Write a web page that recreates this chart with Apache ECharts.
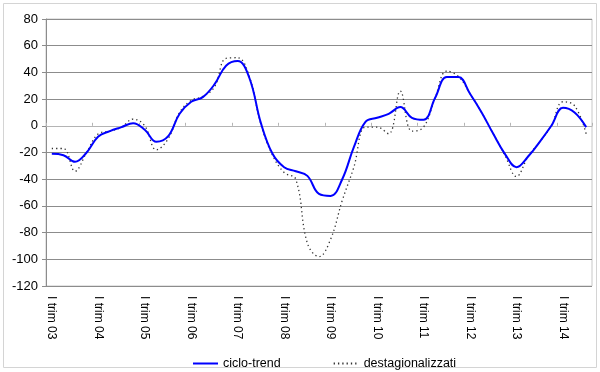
<!DOCTYPE html>
<html>
<head>
<meta charset="utf-8">
<script src="https://cdn.jsdelivr.net/npm/echarts@6/dist/echarts.min.js"></script>
<style>
html,body{margin:0;padding:0;background:#fff;}
#c{width:600px;height:372px;}
</style>
</head>
<body>
<div id="c"></div>
<script>
const categories = [];
const years = ['03','04','05','06','07','08','09','10','11','12','13','14'];
const quarters = ['I','II','III','IV'];
for (const y of years) for (const q of quarters) categories.push(q + ' trim ' + y);
categories.length = 47;

const cicloTrend = [-21,-22,-27,-20,-8,-4,-1,2,-3,-12,-8,9,18,21.5,31,45,48.5,36,2,-21,-31,-34,-37.5,-51,-52.5,-40,-16,3,6,9,14,6,4.5,21,36.5,36.5,24,10,-6,-21,-31,-23,-12,0,13.5,10,-1];
const destagionalizzati = [-17,-17,-34,-20,-6,-4,-1,5,0,-18,-10,10,19,22,29,50.5,51,37,1,-22,-35,-40,-88,-98,-85,-56,-31,-1,-1,-6,26,-4,-1,21,41,37,24,10,-6,-22,-38,-23,-12,0,18,15,-6];
const yTicks = {min:-120, max:80, interval:20};

const chart = echarts.init(document.getElementById('c'), null, {renderer:'canvas'});
const font = 'Liberation Sans, Arial, sans-serif';
chart.setOption({
  animation:false,
  textStyle:{fontFamily:font},
  graphic:[{type:'rect', shape:{x:3.5,y:3.5,width:593,height:364}, style:{fill:'none', stroke:'#d4d4d4', lineWidth:1}, z:-1}],
  grid:{left:46, right:8, top:19, bottom:86, show:true, borderColor:'#c8c8c8', borderWidth:1, backgroundColor:'transparent'},
  legend:{
    left:187, top:352, itemWidth:25, itemHeight:12, itemGap:52,
    itemStyle:{opacity:0, borderWidth:0},
    textStyle:{fontFamily:font, fontSize:12.5, color:'#000'},
    data:['ciclo-trend','destagionalizzati']
  },
  xAxis:[{
    type:'category', data:categories, boundaryGap:true, position:'bottom',
    axisLine:{show:false, onZero:false}, axisTick:{show:false},
    axisLabel:{interval:3, rotate:-90, margin:10, fontSize:12, color:'#000', fontFamily:font}
  },{
    type:'category', data:categories, boundaryGap:true, position:'top',
    axisLine:{show:true, onZero:true, lineStyle:{color:'#b4b4b4', width:1}},
    axisTick:{show:true, interval:3, length:3, inside:false, lineStyle:{color:'#b4b4b4'}},
    axisLabel:{show:false}
  }],
  yAxis:{
    type:'value', min:yTicks.min, max:yTicks.max, interval:yTicks.interval,
    axisLine:{show:true, lineStyle:{color:'#8c8c8c'}},
    axisTick:{show:true, length:4, lineStyle:{color:'#8c8c8c'}},
    axisLabel:{fontSize:13, color:'#000', margin:8, fontFamily:font},
    splitLine:{show:true, lineStyle:{color:'#8c8c8c', width:1}}
  },
  series:[{
    name:'ciclo-trend', type:'line', data:cicloTrend, xAxisIndex:0,
    smooth:0.4, symbol:'none', z:3,
    lineStyle:{color:'#0000ff', width:2}, itemStyle:{color:'#0000ff'}
  },{
    name:'destagionalizzati', type:'line', data:destagionalizzati, xAxisIndex:0,
    smooth:0.4, symbol:'none', z:2,
    lineStyle:{color:'#333333', width:1.3, type:[1.3,3]}, itemStyle:{color:'#333333'}
  }]
});
</script>
</body>
</html>
